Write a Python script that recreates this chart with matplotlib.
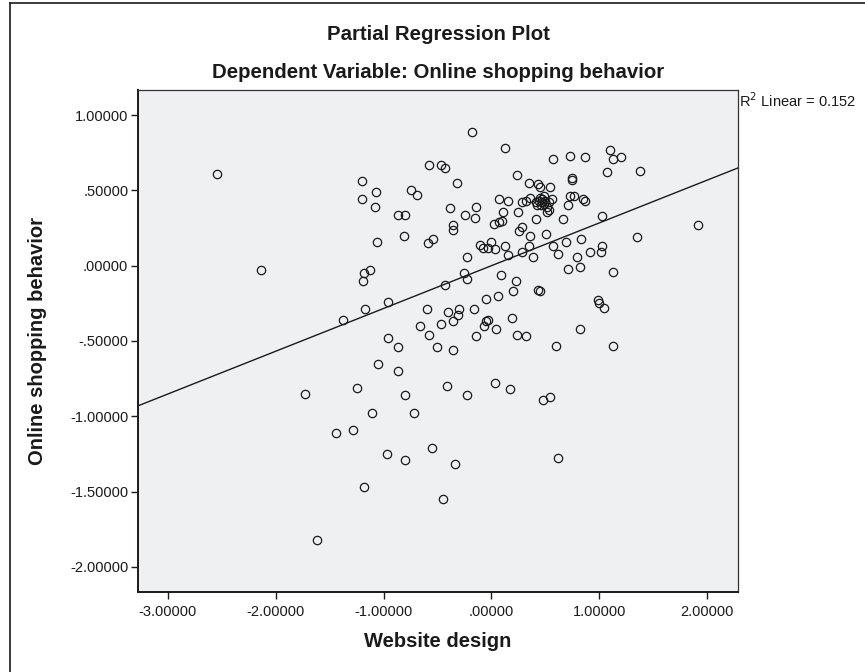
import matplotlib
matplotlib.use("Agg")
import matplotlib.pyplot as plt
from matplotlib.lines import Line2D
import numpy as np

plt.rcParams['font.family'] = ['Liberation Sans', 'DejaVu Sans']

# Website design (partial residuals) - x values
website_design = [
    -2.54, -2.14, -1.20, -1.20, -1.07, -1.08, -0.75, -0.69, -0.87, -0.80,
    -0.81, -1.06, -1.13, -1.18, -1.19, -0.96, -1.17, -1.38, -0.60, -0.66,
    -0.58, -0.96, -0.87, -1.05, -0.87, -1.73, -1.25, -0.80, -1.11, -0.72,
    -1.44, -1.28, -0.97, -0.80, -0.55, -1.18, -1.62,
    -0.18, 0.13, -0.58, -0.47, -0.43, 0.57, -0.32, 0.24, 0.35,
    0.43, 0.45, 0.54, 0.07, 0.15, 0.28, 0.32, 0.36, 0.56,
    0.41, 0.44, 0.47, 0.50, 0.53, 0.45, 0.49, 0.42, 0.46, 0.52, 0.47, 0.49,
    -0.38, -0.14, -0.24, -0.15, 0.11, 0.25, 0.52, 0.53, 0.41, 0.02,
    0.07, 0.10, -0.36, -0.36, 0.28, 0.26, 0.51, 0.36, 0.66,
    0.73, 0.87, 1.10, 1.13, 1.20, 1.07, 1.38, 0.75, 0.75, 0.73,
    0.77, 0.85, 0.87, 0.71, 1.03, 1.92, 1.35, 0.57, 0.62, 0.69,
    0.83, 0.79, 0.91, 1.03, 1.02, 0.71, 0.82, 1.13,
    -0.59, -0.54, -0.11, -0.08, -0.03, 0.00, 0.03, 0.13, 0.15, 0.35,
    0.28, 0.39, -0.23, -0.25, -0.23, -0.43, 0.09, 0.23, 0.20, 0.43,
    0.45, -0.05, 0.06, 0.99, 1.00, 1.04, -0.40, -0.30, -0.31, -0.36,
    -0.47, -0.16, -0.07, -0.05, -0.03, 0.04, 0.19, -0.14, 0.24, 0.32,
    0.82, -0.50, -0.36, 0.60, 1.13, -0.41, -0.23, 0.03, 0.17, 0.48,
    0.54, -0.34, 0.62, -0.45,
]

# Online shopping behavior (partial residuals) - y values
online_shopping = [
    0.61, -0.03, 0.56, 0.44, 0.49, 0.39, 0.50, 0.47, 0.34, 0.34,
    0.20, 0.16, -0.03, -0.05, -0.10, -0.24, -0.29, -0.36, -0.29, -0.40,
    -0.46, -0.48, -0.54, -0.65, -0.70, -0.85, -0.81, -0.86, -0.98, -0.98,
    -1.11, -1.09, -1.25, -1.29, -1.21, -1.47, -1.82,
    0.89, 0.78, 0.67, 0.67, 0.65, 0.71, 0.55, 0.60, 0.55,
    0.54, 0.52, 0.52, 0.44, 0.43, 0.42, 0.43, 0.45, 0.44,
    0.42, 0.43, 0.42, 0.43, 0.42, 0.45, 0.46, 0.40, 0.40, 0.39, 0.44, 0.41,
    0.38, 0.39, 0.34, 0.32, 0.36, 0.36, 0.36, 0.37, 0.31, 0.28,
    0.29, 0.30, 0.27, 0.24, 0.26, 0.23, 0.21, 0.20, 0.31,
    0.73, 0.72, 0.77, 0.71, 0.72, 0.62, 0.63, 0.58, 0.57, 0.46,
    0.46, 0.44, 0.43, 0.40, 0.33, 0.27, 0.19, 0.13, 0.08, 0.16,
    0.18, 0.06, 0.09, 0.13, 0.09, -0.02, -0.01, -0.04,
    0.15, 0.18, 0.14, 0.12, 0.12, 0.16, 0.11, 0.13, 0.07, 0.13,
    0.09, 0.06, 0.06, -0.05, -0.09, -0.13, -0.06, -0.10, -0.17, -0.16,
    -0.17, -0.22, -0.20, -0.23, -0.25, -0.28, -0.31, -0.29, -0.33, -0.37,
    -0.39, -0.29, -0.40, -0.37, -0.36, -0.42, -0.35, -0.47, -0.46, -0.47,
    -0.42, -0.54, -0.56, -0.53, -0.53, -0.80, -0.86, -0.78, -0.82, -0.89,
    -0.87, -1.32, -1.28, -1.55,
]

# Fit line
fit_slope = 0.284
fit_intercept = 0.0
r2_text = "R$^2$ Linear = 0.152"

x_ticks = [-3.0, -2.0, -1.0, 0.0, 1.0, 2.0]
x_tick_labels = ["-3.00000", "-2.00000", "-1.00000", ".00000", "1.00000", "2.00000"]
y_ticks = [1.0, 0.5, 0.0, -0.5, -1.0, -1.5, -2.0]
y_tick_labels = ["1.00000", ".50000", ".00000", "-.50000", "-1.00000", "-1.50000", "-2.00000"]

W, H = 865, 672
fig = plt.figure(figsize=(W / 100, H / 100), dpi=100)
fig.patch.set_facecolor("white")

L, R, T, B = 138, 738, 90, 592
ax = fig.add_axes([L / W, 1 - B / H, (R - L) / W, (B - T) / H])
ax.set_facecolor("#eff0f2")

xlim = (-3.277, 2.287)
ylim = (-2.167, 1.167)
ax.set_xlim(*xlim)
ax.set_ylim(*ylim)

xs = np.array(xlim)
ax.plot(xs, fit_intercept + fit_slope * xs, color="#1a1a1a", lw=1.0, zorder=2)

ax.plot(website_design, online_shopping, linestyle="none", marker="o",
        markersize=6.0, markerfacecolor="none", markeredgecolor="#1a1a1a",
        markeredgewidth=0.9, zorder=3)

ax.set_xticks(x_ticks)
ax.set_xticklabels(x_tick_labels)
ax.set_yticks(y_ticks)
ax.set_yticklabels(y_tick_labels)
ax.tick_params(axis="both", direction="out", length=5, width=1.0,
               color="#1a1a1a", labelsize=10.5, labelcolor="#1a1a1a", pad=2)
ax.tick_params(axis="x", pad=4)

for side in ["left", "bottom"]:
    ax.spines[side].set_linewidth(1.4)
    ax.spines[side].set_color("#1a1a1a")
for side in ["top", "right"]:
    ax.spines[side].set_linewidth(0.9)
    ax.spines[side].set_color("#333333")

ax.set_xlabel("Website design", fontsize=14.5, fontweight="bold", color="#1a1a1a",
              va="center")
ax.set_ylabel("Online shopping behavior", fontsize=14.5, fontweight="bold",
              color="#1a1a1a", va="center")
ax.xaxis.set_label_coords(0.5, (1 - 641.5 / H - (1 - B / H)) / ((B - T) / H))
ax.yaxis.set_label_coords((38 - L) / (R - L), 0.5)

cx = (L + R) / 2 / W
fig.text(cx, 1 - 35 / H, "Partial Regression Plot", ha="center", va="center",
         fontsize=14.7, fontweight="bold", color="#1a1a1a")
fig.text(cx, 1 - 72 / H, "Dependent Variable: Online shopping behavior", ha="center",
         va="center", fontsize=14.7, fontweight="bold", color="#1a1a1a")
fig.text((R + 1) / W, 1 - 101 / H, r2_text, ha="left", va="center", fontsize=10.5,
         color="#1a1a1a")

# outer frame (left and top edges)
fig.add_artist(Line2D([10 / W, 10 / W], [0, 1 - 3 / H], transform=fig.transFigure,
                      color="#1a1a1a", lw=1.2))
fig.add_artist(Line2D([10 / W, 1], [1 - 3 / H, 1 - 3 / H], transform=fig.transFigure,
                      color="#1a1a1a", lw=1.2))

fig.savefig("out.png", dpi=100)
